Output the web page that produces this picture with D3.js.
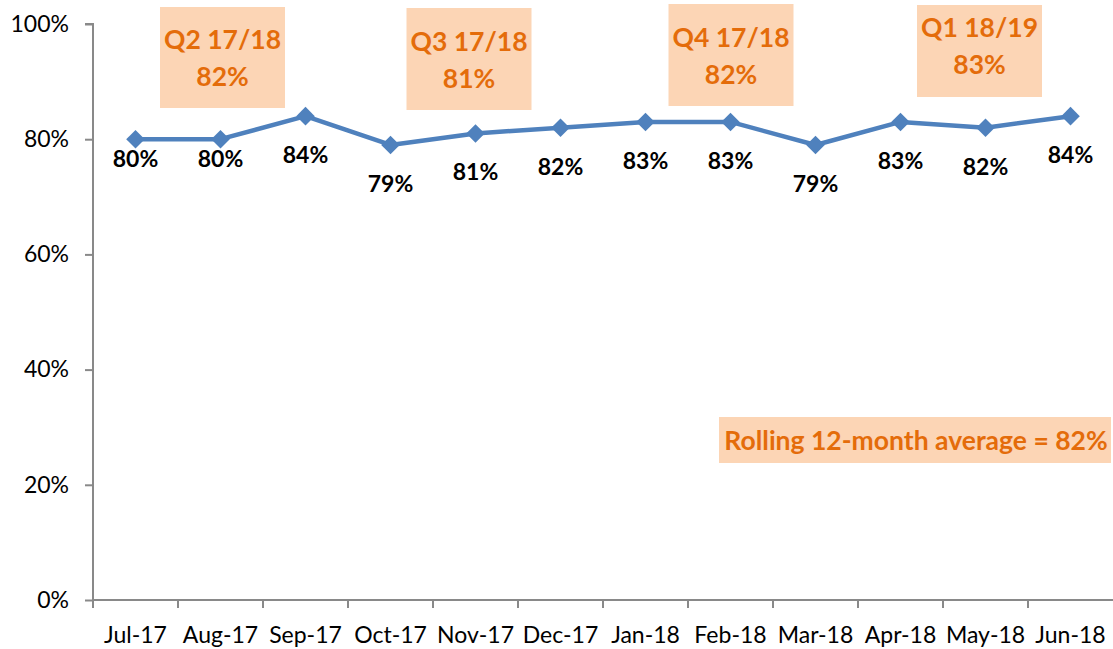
<!DOCTYPE html>
<html>
<head>
<meta charset="utf-8">
<script src="https://cdn.jsdelivr.net/npm/d3@7/dist/d3.min.js"></script>
<style>
  html, body { margin: 0; padding: 0; background: #fff; }
  svg { display: block; font-family: Lato, "Open Sans", sans-serif; }
</style>
</head>
<body>
<main></main>
<script>
// data
var months = ["Jul-17", "Aug-17", "Sep-17", "Oct-17", "Nov-17", "Dec-17",
              "Jan-18", "Feb-18", "Mar-18", "Apr-18", "May-18", "Jun-18"];
var rates = [80, 80, 84, 79, 81, 82, 83, 83, 79, 83, 82, 84];
var yTicks = [0, 20, 40, 60, 80, 100];
var quarterTitles = ["Q2 17/18", "Q3 17/18", "Q4 17/18", "Q1 18/19"];
var quarterRates = [82, 81, 82, 83];
var rollingAverage = 82;

(function () {
    var width = 1113,
        height = 649,
        margin = {top: 24, right: 0, bottom: 49, left: 93};

    var svg = d3.select("main").append("svg")
        .attr("width", width)
        .attr("height", height);

    var x = d3.scaleBand()
            .domain(months)
            .range([margin.left, width - margin.right]),
        y = d3.scaleLinear()
            .domain([0, 100])
            .range([height - margin.bottom, margin.top]);

    var axisColor = "#898989",
        lineColor = "#4f81bd",
        boxFill = "#fcd5b5",
        boxText = "#e46c0a",
        tickFont = 23,
        boxFont = 26.5;

    // y axis
    var yAxis = svg.append("g")
        .attr("transform", "translate(" + margin.left + ",0)")
        .call(d3.axisLeft(y).tickValues(yTicks).tickSize(8).tickPadding(16)
              .tickFormat(function (d) { return d + "%"; }));
    yAxis.select(".domain").attr("stroke", axisColor).attr("stroke-width", 2)
        .attr("d", "M-8," + y(100) + "H0V" + y(0));
    yAxis.selectAll(".tick line").attr("stroke", axisColor).attr("stroke-width", 2);
    yAxis.selectAll(".tick text").attr("font-size", tickFont).attr("fill", "#000")
        .attr("font-family", "Lato, 'Open Sans', sans-serif");

    // x axis, ticks between categories
    var xAxis = svg.append("g")
        .attr("transform", "translate(0," + y(0) + ")");
    xAxis.append("line")
        .attr("x1", margin.left).attr("x2", width)
        .attr("stroke", axisColor).attr("stroke-width", 2);
    xAxis.selectAll("line.tk")
        .data(months)
        .enter().append("line")
        .attr("class", "tk")
        .attr("x1", function (d) { return x(d); })
        .attr("x2", function (d) { return x(d); })
        .attr("y1", 0).attr("y2", 8)
        .attr("stroke", axisColor).attr("stroke-width", 2);
    xAxis.selectAll("text")
        .data(months)
        .enter().append("text")
        .attr("x", function (d) { return x(d) + x.bandwidth() / 2; })
        .attr("y", 43)
        .attr("text-anchor", "middle")
        .attr("font-size", tickFont)
        .attr("fill", "#000")
        .text(function (d) { return d; });

    var cx = function (i) { return x(months[i]) + x.bandwidth() / 2; };

    // line
    svg.append("path")
        .datum(rates)
        .attr("fill", "none")
        .attr("stroke", lineColor)
        .attr("stroke-width", 4.5)
        .attr("stroke-linejoin", "round")
        .attr("d", d3.line()
            .x(function (d, i) { return cx(i); })
            .y(function (d) { return y(d); }));

    // diamond markers
    svg.selectAll("path.marker")
        .data(rates)
        .enter().append("path")
        .attr("class", "marker")
        .attr("fill", lineColor)
        .attr("d", d3.symbol().type(d3.symbolDiamond2).size(220))
        .attr("transform", function (d, i) {
            return "translate(" + cx(i) + "," + y(d) + ")";
        });

    // data labels (first two sit closer to the line)
    var labelDy = function (i) { return i < 2 ? 28 : 47; };
    svg.selectAll("text.lbl")
        .data(rates)
        .enter().append("text")
        .attr("class", "lbl")
        .attr("x", function (d, i) { return cx(i); })
        .attr("y", function (d, i) { return y(d) + labelDy(i); })
        .attr("text-anchor", "middle")
        .attr("font-size", tickFont)
        .attr("font-weight", "bold")
        .attr("fill", "#000")
        .text(function (d) { return d + "%"; });

    // quarter boxes, near the middle month of each quarter
    var boxShift = [2, -6.5, 0.5, -6],
        boxTops = [7, 8, 4, 5],
        boxHeights = [101, 102, 102, 92],
        textTops = [42, 43, 43, 32],
        boxW = 125;
    var q = svg.selectAll("g.quarter")
        .data(quarterTitles)
        .enter().append("g")
        .attr("class", "quarter")
        .attr("transform", function (d, i) {
            return "translate(" + (cx(i * 3 + 1) + boxShift[i]) + "," + boxTops[i] + ")";
        });
    q.append("rect")
        .attr("x", -boxW / 2)
        .attr("width", boxW)
        .attr("height", function (d, i) { return boxHeights[i]; })
        .attr("fill", boxFill);
    q.append("text")
        .attr("text-anchor", "middle")
        .attr("y", function (d, i) { return textTops[i]; })
        .attr("font-size", boxFont)
        .attr("font-weight", "bold")
        .attr("fill", boxText)
        .text(function (d) { return d; });
    q.append("text")
        .attr("text-anchor", "middle")
        .attr("y", function (d, i) { return textTops[i] + 37; })
        .attr("font-size", boxFont)
        .attr("font-weight", "bold")
        .attr("fill", boxText)
        .text(function (d, i) { return quarterRates[i] + "%"; });

    // rolling average box
    var r = svg.append("g").attr("transform", "translate(719,417)");
    r.append("rect")
        .attr("width", 392).attr("height", 46)
        .attr("fill", boxFill);
    r.append("text")
        .attr("x", 197).attr("y", 33)
        .attr("text-anchor", "middle")
        .attr("font-size", boxFont)
        .attr("font-weight", "bold")
        .attr("fill", boxText)
        .text("Rolling 12-month average = " + rollingAverage + "%");
})();
</script>
</body>
</html>
